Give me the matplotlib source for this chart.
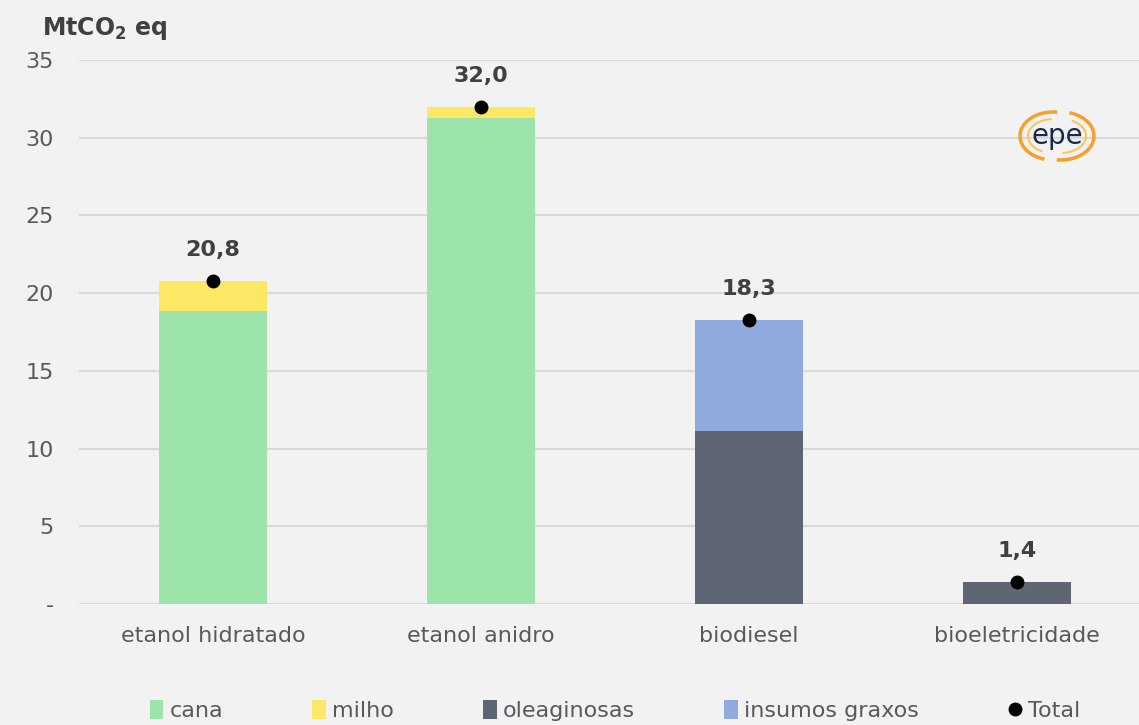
import numpy as np
import matplotlib
matplotlib.use('Agg')
import matplotlib.pyplot as plt
from matplotlib.patches import Arc

categorias = ["etanol hidratado", "etanol anidro", "biodiesel", "bioeletricidade"]
cana = [18.85, 31.25, 0, 0]
milho = [1.95, 0.75, 0, 0]
oleaginosas = [0, 0, 11.1, 1.4]
insumos_graxos = [0, 0, 7.2, 0]
total = [20.8, 32.0, 18.3, 1.4]
yticks = [0, 5, 10, 15, 20, 25, 30, 35]
ytick_labels = ["-", "5", "10", "15", "20", "25", "30", "35"]

cores = {"cana": "#9DE4AA", "milho": "#FCE864", "oleaginosas": "#5F6573",
         "insumos graxos": "#8FAADC"}
bg = "#F2F2F2"
txt = "#595959"

plt.rcParams["font.family"] = ["DejaVu Sans"]
plt.rcParams["mathtext.fontset"] = "dejavusans"

fig = plt.figure(figsize=(11.39, 7.25), dpi=100, facecolor=bg)
ax = fig.add_axes([79/1139, 1-604/725, 1072/1139, 544/725], facecolor=bg)

x = np.arange(len(categorias))
w = 0.4
base = np.zeros(len(x))
for nome, vals in [("cana", cana), ("milho", milho),
                   ("oleaginosas", oleaginosas), ("insumos graxos", insumos_graxos)]:
    ax.bar(x, vals, w, bottom=base, color=cores[nome], label=nome, zorder=2)
    base = base + np.array(vals)

ax.plot(x, total, "o", color="black", ms=9, label="Total", zorder=3)
for xi, t in zip(x, total):
    ax.annotate(f"{t:.1f}".replace(".", ","), (xi, t), xytext=(0, 15),
                textcoords="offset points", ha="center", va="bottom",
                fontsize=16, fontweight="bold", color="#404040")

ax.set_xlim(-0.5, 3.5)
ax.set_ylim(0, 35)
ax.set_yticks(yticks)
ax.set_yticklabels(ytick_labels)
ax.set_xticks(x)
ax.set_xticklabels(categorias)
ax.tick_params(axis="both", length=0, labelsize=16, colors=txt)
ax.tick_params(axis="x", pad=16)
ax.tick_params(axis="y", pad=18)
ax.grid(axis="y", color="#D9D9D9", lw=1.5, zorder=0)
for s in ax.spines.values():
    s.set_visible(False)

fig.text(42/1139, 1-28/725, r"$\mathbf{MtCO_2\ eq}$", fontsize=17,
         color="#404040", va="center", ha="left")

# logo epe
lx, ly = 1057, 136
fig.text(lx/1139, 1-ly/725, "epe", fontsize=20, color="#1B2A48",
         ha="center", va="center")
lax = fig.add_axes([(lx-45)/1139, 1-(ly+30)/725, 90/1139, 60/725])
lax.set_xlim(-45, 45)
lax.set_ylim(-30, 30)
lax.axis("off")
lax.add_patch(Arc((-4, 0), 66, 48, theta1=80, theta2=250, color="#F5A02A", lw=2.5))
lax.add_patch(Arc((-4, 0), 50, 34, theta1=95, theta2=235, color="#FBC560", lw=1.5))
lax.add_patch(Arc((4, 0), 66, 48, theta1=-100, theta2=70, color="#F5A02A", lw=2.5))
lax.add_patch(Arc((4, 0), 50, 34, theta1=-85, theta2=55, color="#FBC560", lw=1.5))

h, l = ax.get_legend_handles_labels()
h = h[1:] + h[:1]
l = l[1:] + l[:1]
leg = fig.legend(h, l, loc="lower center", bbox_to_anchor=(0.54, -0.022), ncol=5,
                 frameon=False, fontsize=16, handlelength=0.6, handleheight=0.9,
                 handletextpad=0.3, columnspacing=4.0, labelcolor=txt)

fig.savefig("out.png", facecolor=bg)
